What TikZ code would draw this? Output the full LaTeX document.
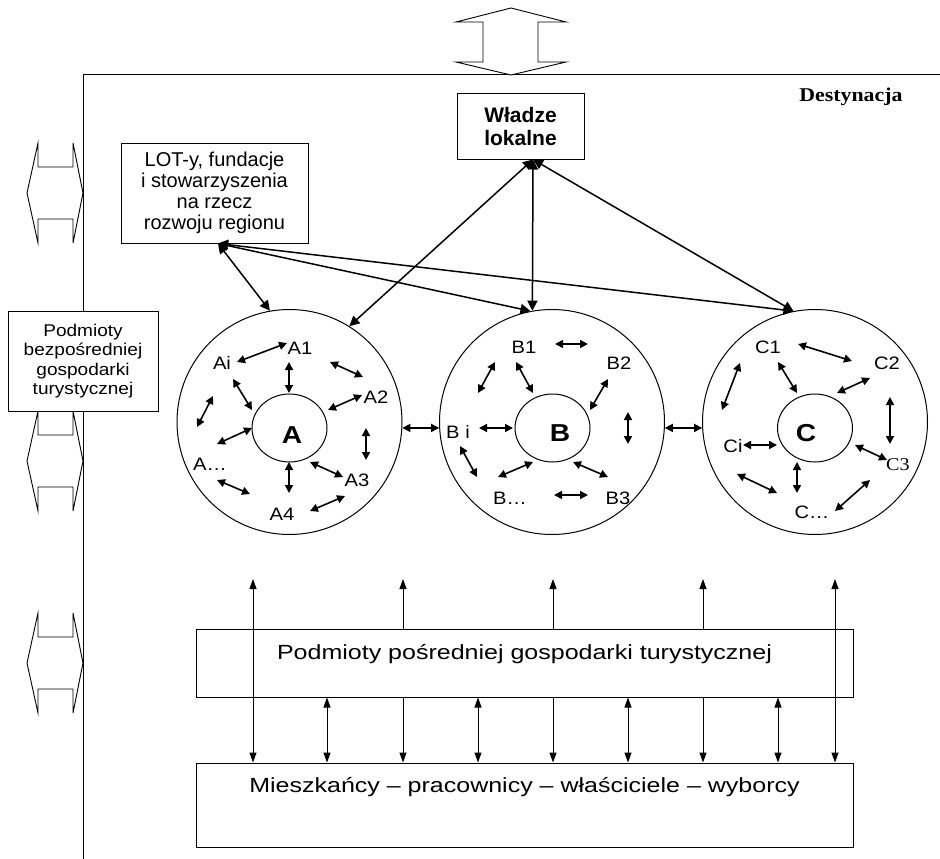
\documentclass[tikz,border=0pt]{standalone}
\usepackage{fontspec}
\setmainfont{Liberation Sans}
\newfontfamily\widefont[FakeStretch=1.22]{Liberation Sans}
\newfontfamily\lblfont[FakeStretch=1.12]{Liberation Sans}
\newfontfamily\midfont[FakeStretch=1.12]{Liberation Sans}
\newfontfamily\bigfont[FakeStretch=1.15]{Liberation Sans}
\newfontfamily\destfont[FakeStretch=1.12]{Liberation Serif}
\newfontfamily\cthreefont[FakeStretch=1.12]{Liberation Serif}
\usetikzlibrary{arrows.meta,shapes.geometric}
\tikzset{
  lbl/.style={inner sep=0pt, font=\lblfont\fontsize{18}{19}\selectfont},
  bigletter/.style={inner sep=0pt, font=\bigfont\bfseries\fontsize{24.5}{25}\selectfont},
  sarr/.style={{Triangle[length=8pt,width=8pt]}-{Triangle[length=8pt,width=8pt]}, line width=1.6pt},
  marr/.style={line width=1.5pt},
  mhead/.tip={Triangle[length=10pt,width=10pt]},
  vhead/.tip={Triangle[length=10pt,width=7pt]},
  varr/.style={line width=1pt},
  hollow/.style={draw, line width=0.9pt, fill=white, line join=miter},
  box/.style={draw, line width=1pt, inner sep=0pt, align=center},
  ring/.style={circle, draw, line width=1pt, minimum size=225pt, inner sep=0pt},
  core/.style={ellipse, draw, line width=1pt, minimum width=75pt, minimum height=68pt, inner sep=0pt}
}
\begin{document}
\begin{tikzpicture}[x=1pt,y=-1pt]
\useasboundingbox (0,0) rectangle (940,859);
% frame
\coordinate (fc) at (83,75);
\coordinate (fr) at (940,75);
\coordinate (fb) at (83,859);
\draw[line width=1pt] (fr) -- (fc) -- (fb);
% top hollow double arrow
\draw[hollow] (511,8) -- (566,22) -- (538,22) -- (538,62) -- (566,62) -- (511,75)
  -- (456,62) -- (483,62) -- (483,22) -- (456,22) -- cycle;
% left hollow double arrows
\foreach \c in {193,461,663}{
  \draw[hollow] (27,\c) -- (38,\c-50) -- (38,\c-26) -- (73,\c-26) -- (73,\c-50) -- (83,\c)
    -- (73,\c+50) -- (73,\c+26) -- (38,\c+26) -- (38,\c+50) -- cycle;
}
% Destynacja
\node[inner sep=0pt, font=\destfont\bfseries\fontsize{19.5}{20}\selectfont] (dest) at (851,97) {Destynacja};
% boxes
\node[box, minimum width=127pt, minimum height=66pt, font=\bfseries\fontsize{21}{23}\selectfont] (wl) at (520.5,126) {Władze\\lokalne};
\node[box, minimum width=187pt, minimum height=100pt, font=\fontsize{20}{21}\selectfont] (lot) at (214.5,193) {LOT-y, fundacje\\i stowarzyszenia\\na rzecz\\rozwoju regionu};
\node[box, fill=white, minimum width=150pt, minimum height=100pt, font=\midfont\fontsize{17}{19.5}\selectfont] (pbg) at (83,361) {Podmioty\\bezpośredniej\\gospodarki\\turystycznej};
\node[box, minimum width=657pt, text height=30pt, text depth=38pt, font=\widefont\fontsize{20.5}{22}\selectfont] (ppg) at (524.5,663) {Podmioty pośredniej gospodarki turystycznej};
\node[box, minimum width=657pt, text height=29pt, text depth=55pt, font=\widefont\fontsize{20.5}{22}\selectfont] (mk) at (524.5,805) {Mieszkańcy – pracownicy – właściciele – wyborcy};
% circles
\node[ring] (ca) at (289.5,422) {};
\node[ring] (cb) at (552,422) {};
\node[ring] (cc) at (815,422) {};
\node[core] (ia) at (289.5,428) {};
\node[core] (ib) at (552.5,428) {};
\node[core] (ic) at (815,428) {};
\node[bigletter] (la) at (292,435) {A};
\node[bigletter] (lb) at (560,433) {B};
\node[bigletter] (lc) at (806,433) {C};
% labels A
\node[lbl] (a1) at (300,348) {A1};
\node[lbl] (ai) at (222,363) {Ai};
\node[lbl] (a2) at (376,397) {A2};
\node[lbl] (ax) at (210,464) {A…};
\node[lbl] (a3) at (357,480) {A3};
\node[lbl] (a4) at (282,514) {A4};
% labels B
\node[lbl] (b1) at (524,347) {B1};
\node[lbl] (b2) at (619,363) {B2};
\node[lbl] (bi) at (458,432) {B i};
\node[lbl] (bx) at (510,498) {B…};
\node[lbl] (b3) at (618,498) {B3};
% labels C
\node[lbl] (c1) at (768,347) {C1};
\node[lbl] (c2) at (887,363) {C2};
\node[lbl] (ci) at (733,446) {Ci};
\node[inner sep=0pt, font=\cthreefont\fontsize{18}{19}\selectfont] (c3) at (898,465) {C3};
\node[lbl] (cx) at (812,512) {C…};
% small arrows A
\foreach \p/\q in {{237,362}/{287,343},{289,362}/{289,393},{330,362}/{363,377},{233,379}/{252,410},
  {213,396}/{197,427},{362,395}/{328,410},{252,428}/{217,444},{366,428}/{366,460},
  {289,462}/{289,493},{310,462}/{343,477},{217,480}/{250,494},{345,496}/{310,511}}
  \draw[sarr] (\p) -- (\q);
% small arrows B
\foreach \p/\q in {{555,344}/{588,344},{495,362}/{478,393},{516,362}/{533,393},{608,379}/{590,410},
  {479,428}/{513,428},{628,412}/{628,444},{460,446}/{477,477},{533,462}/{498,477},
  {573,462}/{608,477},{554,495}/{588,495}}
  \draw[sarr] (\p) -- (\q);
% small arrows C
\foreach \p/\q in {{798,344}/{852,361},{740,363}/{722,410},{778,362}/{797,393},{870,378}/{837,393},
  {890,397}/{890,444},{743,445}/{777,445},{855,445}/{887,460},{797,462}/{797,493},
  {737,474}/{777,493},{870,480}/{835,511}}
  \draw[sarr] (\p) -- (\q);
% between circles
\draw[sarr] (ca.-3) -- (cb.183);
\draw[sarr] (cb.-3) -- (cc.183);
% main connectors
\coordinate (wlb) at ([xshift=12.5pt]wl.south);
\coordinate (lotb) at ([xshift=3.5pt]lot.south);
\draw[marr, mhead-mhead] (lotb) -- (ca.100);
\draw[marr, mhead-mhead] (lotb) -- (cb.101);
\draw[marr, mhead-mhead] (lotb) -- (cc.101);
\draw[marr, mhead-mhead] (wlb) -- (ca.58);
\draw[marr, mhead-mhead] (wlb) -- (cb.100);
\draw[marr, mhead-mhead] (wlb) -- (cc.101);
% bottom vertical arrows
\coordinate (t1) at (253,579);
\coordinate (t2) at (327,579);
\coordinate (t3) at (403,579);
\coordinate (t4) at (478,579);
\coordinate (t5) at (553,579);
\coordinate (t6) at (628,579);
\coordinate (t7) at (703,579);
\coordinate (t8) at (778,579);
\coordinate (t9) at (835,579);
\foreach \t in {t1,t9}
  \draw[varr, vhead-vhead] (\t) -- (\t |- mk.north);
\foreach \t in {t3,t5,t7}{
  \draw[varr, -vhead] (\t |- ppg.north) -- (\t);
  \draw[varr, -vhead] (\t |- ppg.south) -- (\t |- mk.north);
}
\foreach \t in {t2,t4,t6,t8}
  \draw[varr, vhead-vhead] (\t |- ppg.south) -- (\t |- mk.north);
\end{tikzpicture}
\end{document}
